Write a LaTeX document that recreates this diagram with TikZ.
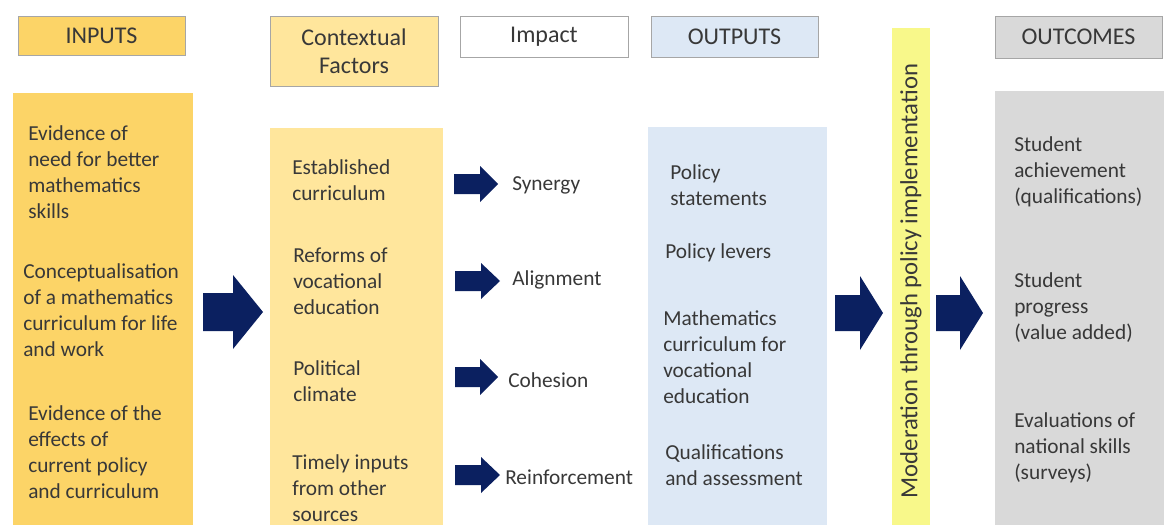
\documentclass[tikz,border=0pt]{standalone}
\usepackage{fontspec}
\setmainfont{Carlito}
\definecolor{goldA}{HTML}{FCD467}
\definecolor{goldB}{HTML}{FFE69C}
\definecolor{blueL}{HTML}{DDE8F5}
\definecolor{grayL}{HTML}{D9D9D9}
\definecolor{yelBar}{HTML}{F8F88A}
\definecolor{navy}{HTML}{0B2060}
\definecolor{txt}{HTML}{383838}
\definecolor{hline}{HTML}{A6A6A6}
\newcommand\blockarrow[6]{%
  \fill[navy] ({#1},{#4-#5}) -- ({#2},{#4-#5}) -- ({#2},{#4-#6}) -- ({#3},{#4})
    -- ({#2},{#4+#6}) -- ({#2},{#4+#5}) -- ({#1},{#4+#5}) -- cycle;}
\begin{document}
\begin{tikzpicture}[x=0.75pt,y=-0.75pt,
  hdr/.style={draw=hline, line width=0.6pt, text=txt, inner sep=0pt,
    font=\fontsize{18}{21}\selectfont, align=center},
  panel/.style={draw=none, anchor=north west, inner sep=0pt},
  body/.style={anchor=west, align=left, inner sep=0pt, text=txt,
    font=\fontsize{16}{19.5}\selectfont}]
\useasboundingbox (0,0) rectangle (1164,525);
% headers
\node[hdr, fill=goldA, minimum width=167*0.75pt, minimum height=39*0.75pt] (hIn) at (101.5,35.5) {INPUTS};
\node[hdr, fill=goldB, minimum width=168*0.75pt, minimum height=70*0.75pt] (hCtx) at (354,51) {Contextual\\Factors};
\node[hdr, fill=white, minimum width=168*0.75pt, minimum height=41*0.75pt] (hImp) at (544,36.5) {Impact};
\node[hdr, fill=blueL, minimum width=167*0.75pt, minimum height=41*0.75pt] (hOut) at (734.5,36.5) {OUTPUTS};
\node[hdr, fill=grayL, minimum width=167*0.75pt, minimum height=42*0.75pt] (hOc) at (1078.5,37) {OUTCOMES};
% panels
\node[panel, fill=goldA, minimum width=180*0.75pt, minimum height=432*0.75pt] (pIn) at (13,93) {};
\node[panel, fill=goldB, minimum width=173*0.75pt, minimum height=397*0.75pt] (pCtx) at (270,128) {};
\node[panel, fill=blueL, minimum width=179*0.75pt, minimum height=398*0.75pt] (pOut) at (648,127) {};
\node[panel, fill=grayL, minimum width=169*0.75pt, minimum height=434*0.75pt] (pOc) at (995,91) {};
\node[panel, fill=yelBar, minimum width=38*0.75pt, minimum height=497*0.75pt] (pMod) at (892,28) {};
\node[rotate=90, text=txt, inner sep=0pt, font=\fontsize{18.5}{21}\selectfont] (tMod) at (911,281) {Moderation through policy implementation};
% inputs text
\node[body] (in1) at (28,172) {Evidence of\\need for better\\mathematics\\skills};
\node[body] (in2) at (23,310.5) {Conceptualisation\\of a mathematics\\curriculum for life\\and work};
\node[body] (in3) at (28,452) {Evidence of the\\effects of\\current policy\\and curriculum};
% context text
\node[body] (c1) at (292,180) {Established\\curriculum};
\node[body] (c2) at (293,281) {Reforms of\\vocational\\education};
\node[body] (c3) at (293,381.5) {Political\\climate};
\node[body] (c4) at (292,488) {Timely inputs\\from other\\sources};
% impact labels
\node[body] (i1) at (512,185) {Synergy};
\node[body] (i2) at (512,280) {Alignment};
\node[body] (i3) at (508,380) {Cohesion};
\node[body] (i4) at (505,477) {Reinforcement};
% outputs text
\node[body] (o1) at (670,185) {Policy\\statements};
\node[body] (o2) at (665,253) {Policy levers};
\node[body] (o3) at (663,357) {Mathematics\\curriculum for\\vocational\\education};
\node[body] (o4) at (665,465) {Qualifications\\and assessment};
% outcomes text
\node[body] (r1) at (1014,172) {Student\\achievement\\(qualifications)};
\node[body] (r2) at (1014,308) {Student\\progress\\(value added)};
\node[body] (r3) at (1014,448) {Evaluations of\\national skills\\(surveys)};
% block arrows
\blockarrow{203}{233}{263}{312}{19}{37}
\blockarrow{835}{860}{883}{313}{18}{37}
\blockarrow{936}{960}{983}{313}{18}{37}
\blockarrow{454}{480}{498}{184}{10}{18}
\blockarrow{455}{481}{500}{281}{10}{18}
\blockarrow{455}{480}{498}{377}{10}{18}
\blockarrow{455}{481}{500}{475}{10}{18}
\end{tikzpicture}
\end{document}
